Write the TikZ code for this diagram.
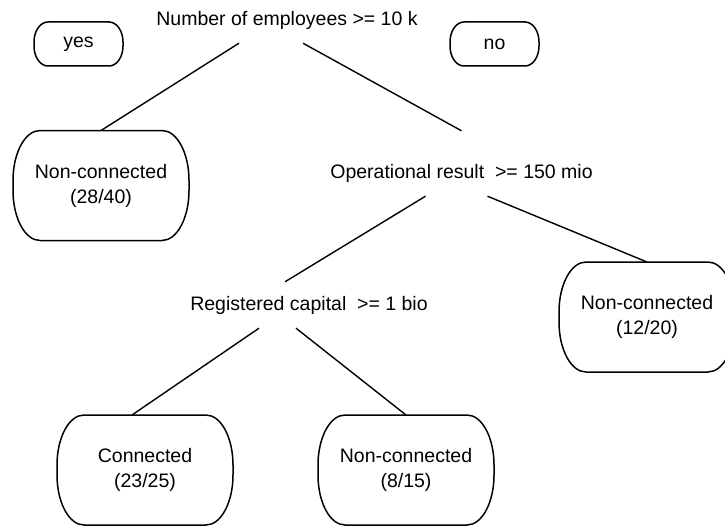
\documentclass[tikz,border=0pt]{standalone}
\usepackage{fontspec}
\setmainfont{Liberation Sans}
\usetikzlibrary{positioning}

% outline with elliptic corners round a named node: node, x radius, y radius
\newcommand{\leafshape}[3]{%
    \draw[line width=1.5pt] ([xshift=#2]#1.north west) -- ([xshift=-#2]#1.north east)
        arc[start angle=90, end angle=0, x radius=#2, y radius=#3]
        -- ([yshift=#3]#1.south east)
        arc[start angle=0, end angle=-90, x radius=#2, y radius=#3]
        -- ([xshift=#2]#1.south west)
        arc[start angle=270, end angle=180, x radius=#2, y radius=#3]
        -- ([yshift=-#3]#1.north west)
        arc[start angle=180, end angle=90, x radius=#2, y radius=#3] -- cycle;}

\begin{document}
\begin{tikzpicture}[x=1pt, y=-1pt,
    every node/.style={font=\fontsize{19.5}{25}\selectfont},
    leaf/.style={rectangle, minimum width=176pt, minimum height=110pt,
        inner sep=0pt, outer sep=0pt, align=center},
    tag/.style={rectangle, minimum width=89pt, minimum height=44pt,
        inner sep=0pt, outer sep=0pt},
    test/.style={minimum height=46pt, inner sep=0pt},
    edge/.style={line width=1.4pt}]

        \useasboundingbox (0,0) rectangle (725,527);

        % Split on number of employees
        \node[test] (root) at (287,20) {Number of employees >= 10 k};
        \node[tag] (yes) at (78.5,44) {yes};
        \node[tag] (no) at (494.5,44) {no};

        \node[leaf] (n1) at (101,185.5) {Non-connected\\(28/40)};
        \node[test] (op) at (461.5,173) {Operational result\ \ >= 150 mio};

        \node[test] (reg) at (309,305) {Registered capital\ \ >= 1 bio};
        \node[leaf] (n2) at (647,317) {Non-connected\\(12/20)};

        \node[leaf] (n3) at (145,470) {Connected\\(23/25)};
        \node[leaf] (n4) at (406,470) {Non-connected\\(8/15)};

        \leafshape{yes}{14pt}{20pt}
        \leafshape{no}{14pt}{20pt}
        \foreach \n in {n1,n2,n3,n4}{
            \leafshape{\n}{27pt}{50pt}
        }

        % Branches
        \draw[edge] ([xshift=-48pt]root.south) -- (n1.north);
        \draw[edge] ([xshift=16pt]root.south) -- ([yshift=19pt]op.north);
        \draw[edge] ([xshift=-36pt]op.south) -- ([xshift=-24pt]reg.north);
        \draw[edge] ([xshift=26pt]op.south) -- (n2.north);
        \draw[edge] ([xshift=-50pt]reg.south) -- ([xshift=-13pt]n3.north);
        \draw[edge] ([xshift=-13pt]reg.south) -- (n4.north);

\end{tikzpicture}
\end{document}
